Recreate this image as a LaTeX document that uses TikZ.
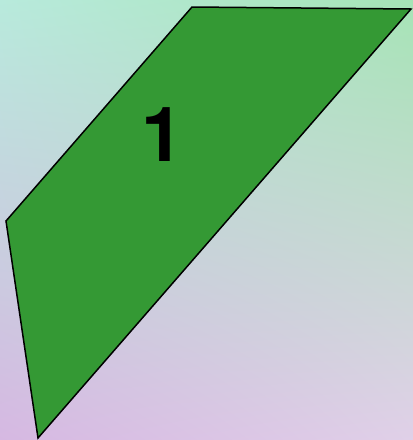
\documentclass[tikz,border=0pt]{standalone}
\usepackage{fontspec}
\setmainfont{TeX Gyre Heros}
\usepackage{xcolor}
\usetikzlibrary{shadings}
\definecolor{bgmint}{RGB}{184,234,220}
\definecolor{bgleaf}{RGB}{166,228,182}
\definecolor{bglilac}{RGB}{214,184,226}
\definecolor{bgrose}{RGB}{224,208,232}
\definecolor{plotgreen}{RGB}{52,153,52}

\begin{document}
\begin{tikzpicture}[x=1pt,y=-1pt,
  plot/.style={draw=black,fill=plotgreen,line width=1.5pt,line join=miter},
  tag/.style={font=\bfseries\fontsize{76}{76}\selectfont,text=black,inner sep=0pt}]

% gradient backdrop
\shade[upper left=bgmint,upper right=bgleaf,lower left=bglilac,lower right=bgrose]
  (0,0) rectangle (413,440);
\useasboundingbox (0,0) rectangle (413,440);

\coordinate (nw) at (192,7);
\coordinate (ne) at (411,9);
\coordinate (s) at (38,438);
\coordinate (w) at (6,221);

\draw[plot] (nw)--(ne)--(s)--(w)--cycle;
\node[tag] (one) at (163,135) {1};
\end{tikzpicture}
\end{document}
